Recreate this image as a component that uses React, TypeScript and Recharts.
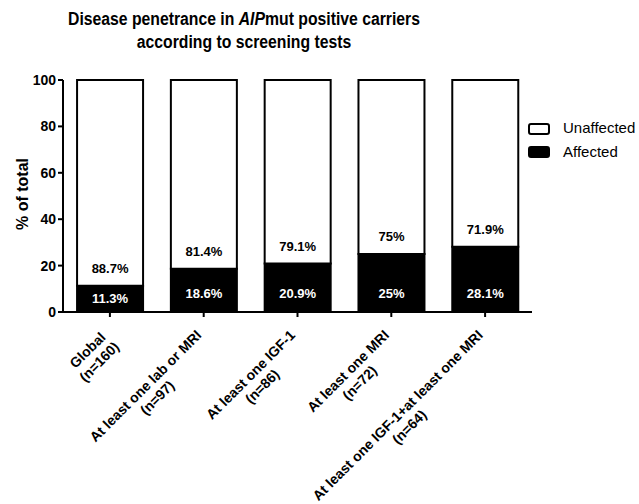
import React from 'react';
import { BarChart, Bar, XAxis, YAxis, LabelList } from 'recharts';

const categories = [
  'Global',
  'At least one lab or MRI',
  'At least one IGF-1',
  'At least one MRI',
  'At least one IGF-1+at least one MRI',
];
const counts = ['(n=160)', '(n=97)', '(n=86)', '(n=72)', '(n=64)'];
const affected = [11.3, 18.6, 20.9, 25, 28.1];
const unaffected = [88.7, 81.4, 79.1, 75, 71.9];
const affectedLabels = ['11.3%', '18.6%', '20.9%', '25%', '28.1%'];
const unaffectedLabels = ['88.7%', '81.4%', '79.1%', '75%', '71.9%'];
const yTicks = [0, 20, 40, 60, 80, 100];

const FONT = '"Liberation Sans", Arial, Helvetica, sans-serif';

const data = categories.map((c, i) => ({
  name: c,
  n: counts[i],
  affected: affected[i],
  unaffected: unaffected[i],
  aLabel: affectedLabels[i],
  uLabel: unaffectedLabels[i],
}));

let ctx: CanvasRenderingContext2D | null = null;
const measure = (s: string, font: string) => {
  if (!ctx) ctx = document.createElement('canvas').getContext('2d');
  if (!ctx) return s.length * 8;
  ctx.font = font;
  return ctx.measureText(s).width;
};

const XTick = (props: any) => {
  const { x, y, payload } = props;
  const i = categories.indexOf(payload.value);
  const lines = [payload.value, counts[i]];
  const w = Math.max(...lines.map((l) => measure(l, `bold 14px ${FONT}`)));
  const cx = -14.5 - w / 2;
  return (
    <g transform={`translate(${x},${y})`}>
      <text
        transform="rotate(-45)"
        textAnchor="middle"
        fontSize={14}
        fontWeight="bold"
        fontFamily={FONT}
        fill="#000"
      >
        <tspan x={cx} y={12.5}>{lines[0]}</tspan>
        <tspan x={cx} y={29}>{lines[1]}</tspan>
      </text>
    </g>
  );
};

const AffectedLabel = (props: any) => {
  const { x, y, width, height, value } = props;
  const bottom = y + height;
  const cy = Math.max(y + height / 2, bottom - 19);
  return (
    <text
      x={x + width / 2}
      y={cy}
      textAnchor="middle"
      dominantBaseline="central"
      fontSize={13}
      fontWeight="bold"
      fontFamily={FONT}
      fill="#fff"
    >
      {value}
    </text>
  );
};

const UnaffectedLabel = (props: any) => {
  const { x, y, width, height, value } = props;
  const bottom = y + height;
  return (
    <text
      x={x + width / 2}
      y={bottom - 17.5}
      textAnchor="middle"
      dominantBaseline="central"
      fontSize={13}
      fontWeight="bold"
      fontFamily={FONT}
      fill="#000"
    >
      {value}
    </text>
  );
};

const YLabel = (props: any) => {
  const { viewBox } = props;
  const cy = viewBox.y + viewBox.height / 2 - 2;
  return (
    <text
      x={22}
      y={cy}
      transform={`rotate(-90, 22, ${cy})`}
      textAnchor="middle"
      dominantBaseline="central"
      fontSize={16}
      fontWeight="bold"
      fontFamily={FONT}
      fill="#000"
    >
      % of total
    </text>
  );
};

export default function App() {
  return (
    <div
      style={{
        position: 'absolute',
        left: 0,
        top: 0,
        width: 639,
        height: 504,
        background: '#fff',
        fontFamily: FONT,
      }}
    >
      <div
        style={{
          position: 'absolute',
          left: 0,
          top: 8,
          width: 488,
          textAlign: 'center',
          fontSize: 17.5,
          fontWeight: 'bold',
          lineHeight: '23px',
          color: '#000',
          transform: 'scaleX(0.9)',
          transformOrigin: '244px 0',
          whiteSpace: 'nowrap',
        }}
      >
        <div>
          Disease penetrance in <i>AIP</i>mut positive carriers
        </div>
        <div>according to screening tests</div>
      </div>
      <BarChart
        width={639}
        height={504}
        data={data}
        margin={{ top: 80, right: 107, bottom: 42, left: 13 }}
        barCategoryGap="15%"
      >
        <XAxis
          dataKey="name"
          interval={0}
          height={150}
          tick={<XTick />}
          tickSize={5}
          tickMargin={0}
          axisLine={{ stroke: '#000', strokeWidth: 2 }}
          tickLine={{ stroke: '#000', strokeWidth: 2 }}
        />
        <YAxis
          width={50}
          domain={[0, 100]}
          ticks={yTicks}
          tickSize={5}
          tickMargin={2}
          axisLine={{ stroke: '#000', strokeWidth: 2 }}
          tickLine={{ stroke: '#000', strokeWidth: 2 }}
          tick={{ fill: '#000', fontSize: 14, fontWeight: 'bold', fontFamily: FONT }}
          label={<YLabel />}
        />
        <Bar
          dataKey="affected"
          stackId="a"
          fill="#000"
          stroke="#000"
          strokeWidth={2}
          isAnimationActive={false}
        >
          <LabelList dataKey="aLabel" content={<AffectedLabel />} />
        </Bar>
        <Bar
          dataKey="unaffected"
          stackId="a"
          fill="#fff"
          stroke="#000"
          strokeWidth={2}
          isAnimationActive={false}
        >
          <LabelList dataKey="uLabel" content={<UnaffectedLabel />} />
        </Bar>
      </BarChart>
      <div style={{ position: 'absolute', left: 528, top: 123, width: 18, height: 8, border: '2px solid #000', borderRadius: 3, background: '#fff' }} />
      <div style={{ position: 'absolute', left: 528, top: 146, width: 18, height: 8, border: '2px solid #000', borderRadius: 3, background: '#000' }} />
      <div style={{ position: 'absolute', left: 563, top: 119, fontSize: 15, lineHeight: '18px', color: '#000' }}>Unaffected</div>
      <div style={{ position: 'absolute', left: 563, top: 143, fontSize: 15, lineHeight: '18px', color: '#000' }}>Affected</div>
    </div>
  );
}
